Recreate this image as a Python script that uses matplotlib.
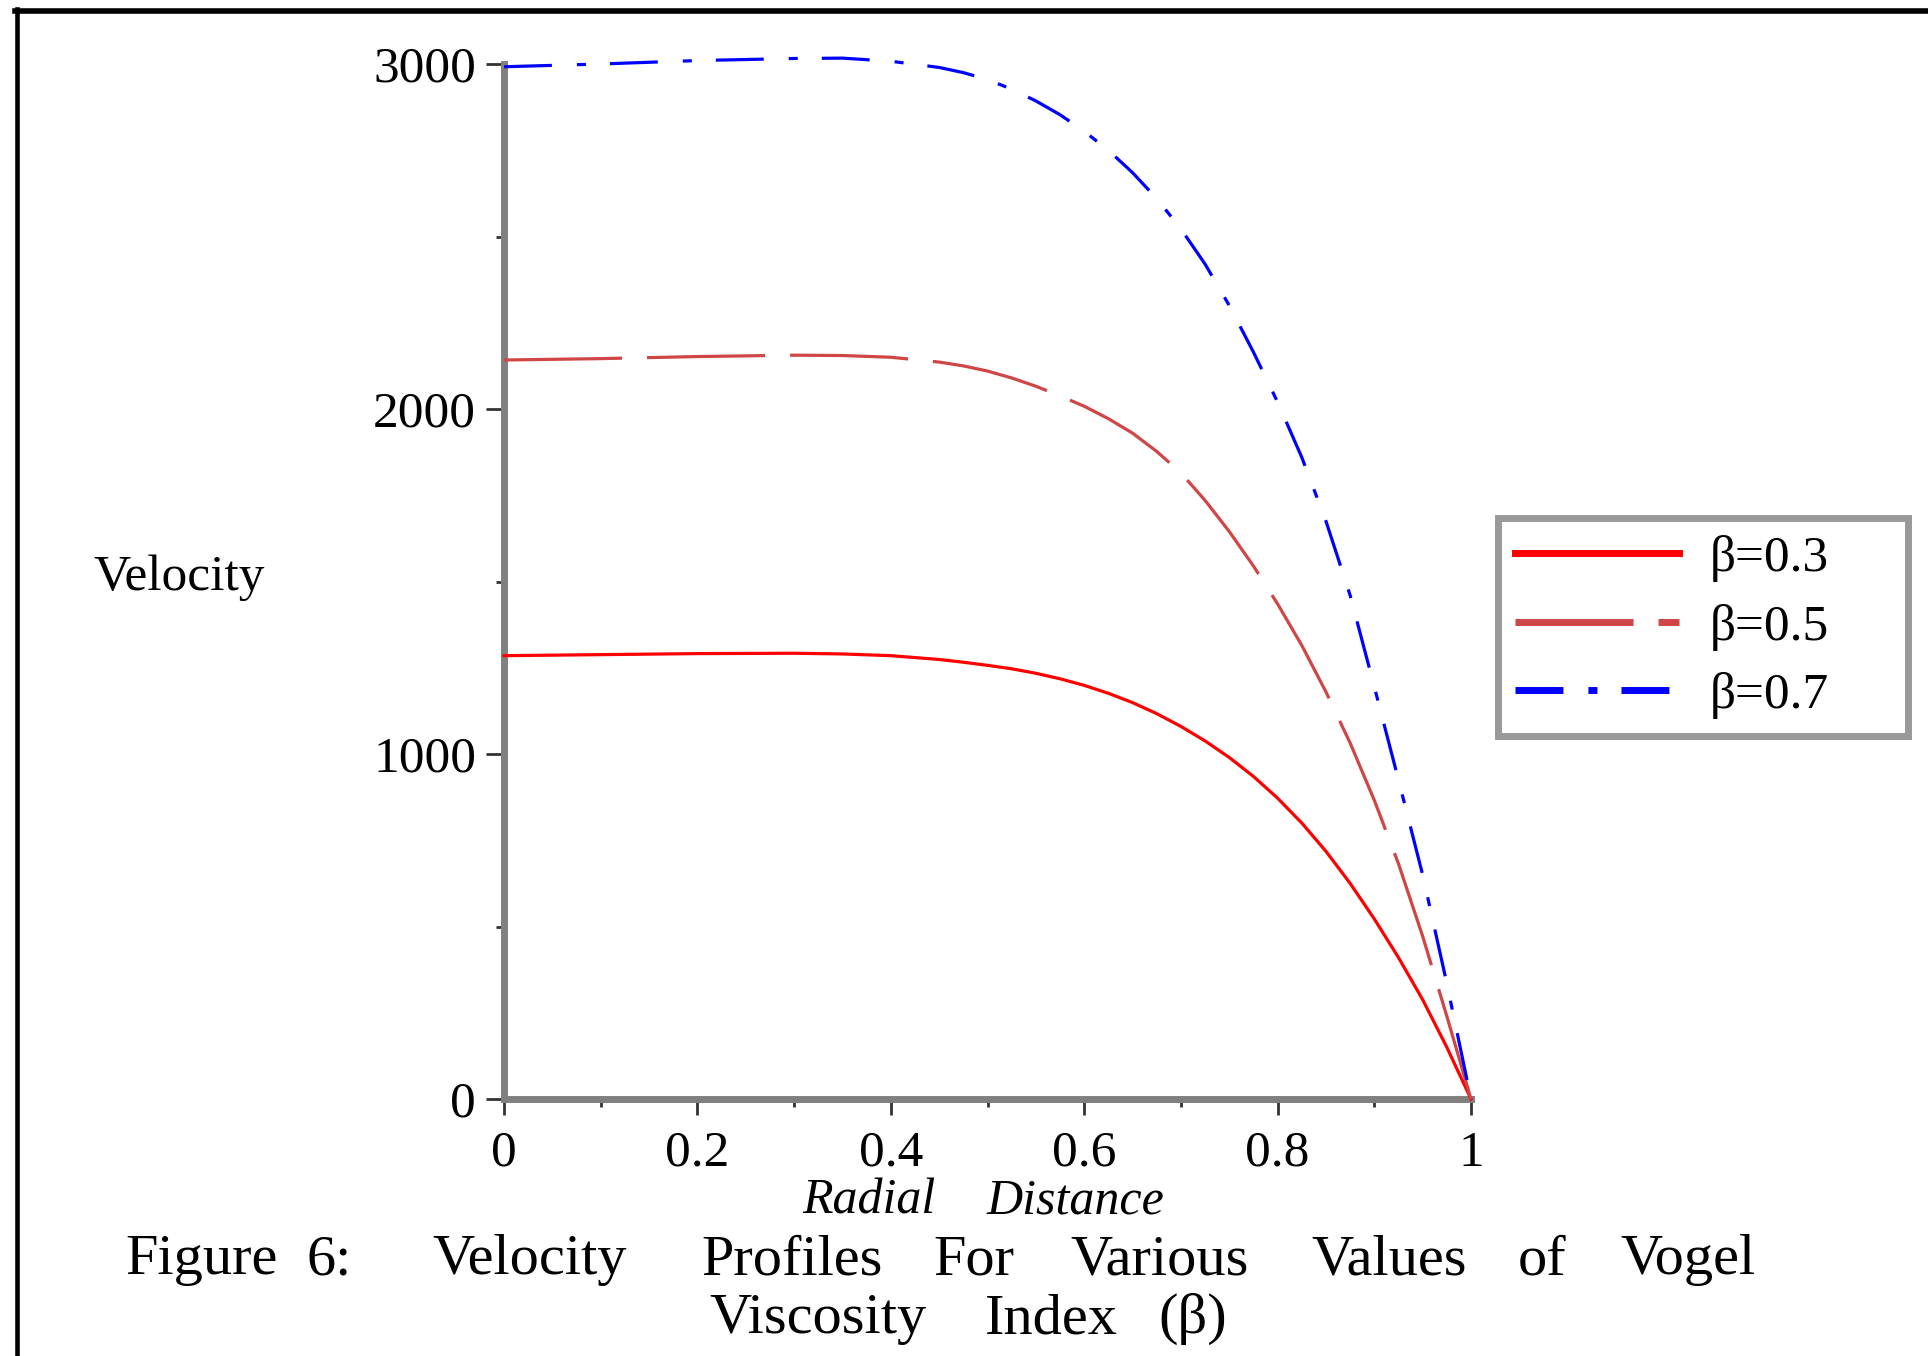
import matplotlib
matplotlib.use("Agg")
import matplotlib.pyplot as plt
from matplotlib.lines import Line2D

plt.rcParams['font.family'] = ['Liberation Serif', 'DejaVu Serif']
plt.rcParams['lines.scale_dashes'] = False

# ---------------- data ----------------
x_vals = [0.0, 0.1, 0.2, 0.3, 0.35, 0.4, 0.45, 0.475, 0.5, 0.525, 0.55, 0.575,
          0.6, 0.625, 0.65, 0.675, 0.7, 0.725, 0.75, 0.775, 0.8, 0.825, 0.85,
          0.875, 0.9, 0.925, 0.95, 0.975, 1.0]
v_beta03 = [1285, 1288, 1291, 1292, 1290, 1285, 1274, 1266, 1257, 1247, 1234, 1218,
            1199, 1176, 1149, 1117, 1080, 1038, 990, 935, 872, 800, 718,
            625, 522, 410, 288, 150, 0]
v_beta05 = [2142, 2146, 2152, 2156, 2155, 2150, 2136, 2125, 2110, 2090, 2066, 2038,
            2008, 1972, 1930, 1877, 1815, 1735, 1645, 1545, 1435, 1315, 1180,
            1032, 866, 682, 472, 240, 0]
v_beta07 = [2992, 3000, 3010, 3016, 3017, 3008, 2990, 2975, 2955, 2927, 2893, 2853,
            2805, 2750, 2685, 2610, 2522, 2420, 2300, 2165, 2020, 1860, 1675,
            1460, 1195, 925, 650, 335, 0]
series_labels = ['β=0.3', 'β=0.5', 'β=0.7']
x_ticks = [0, 0.2, 0.4, 0.6, 0.8, 1.0]
x_tick_labels = ['0', '0.2', '0.4', '0.6', '0.8', '1']
y_ticks = [0, 1000, 2000, 3000]
y_tick_labels = ['0', '1000', '2000', '3000']

# ---------------- figure ----------------
W, H = 1928, 1356
S = W / 1568.0   # reference-preview px -> full px
fig = plt.figure(figsize=(W / 100, H / 100), dpi=100)
fig.patch.set_facecolor('white')

def fx(px):
    return px / W

def fy(py):
    return 1 - py / H

ax_l, ax_r, ax_t, ax_b = 504, 1471, 64, 1099
ax = fig.add_axes([fx(ax_l), fy(ax_b), fx(ax_r - ax_l), (ax_b - ax_t) / H])
ax.set_xlim(0, 1)
ax.set_ylim(0, 3000)
ax.set_facecolor('none')

styles = [
    dict(color='#FF0000', linestyle='-'),
    dict(color='#D04545', linestyle=(0, (85, 18))),
    dict(color='#0000FF', linestyle=(0, (34.5, 18, 6.5, 17.3))),
]
for yv, st in zip([v_beta03, v_beta05, v_beta07], styles):
    ax.plot(x_vals, yv, lw=2.3, clip_on=False, zorder=3, **st)

for side in ['top', 'right']:
    ax.spines[side].set_visible(False)
for side in ['left', 'bottom']:
    ax.spines[side].set_color('#808080')
    ax.spines[side].set_linewidth(5)
    ax.spines[side].set_zorder(2)

ax.set_xticks(x_ticks)
ax.set_xticklabels(x_tick_labels)
ax.set_xticks([0.1, 0.3, 0.5, 0.7, 0.9], minor=True)
ax.set_yticks(y_ticks)
ax.set_yticklabels(y_tick_labels)
ax.set_yticks([500, 1500, 2500], minor=True)

ax.tick_params(axis='x', which='major', direction='out', length=11.5, width=2,
               color='#333333', labelsize=37, pad=11)
ax.tick_params(axis='x', which='minor', direction='out', length=6, width=2,
               color='#333333')
ax.tick_params(axis='y', which='major', direction='out', length=13, width=2,
               color='#333333', labelsize=37, pad=7)
ax.tick_params(axis='y', which='minor', direction='out', length=6, width=2,
               color='#333333')

def words(items, y_prev, size, **kw):
    for w, cx in items:
        fig.text(fx(cx * S), fy(y_prev * S), w, fontsize=size,
                 ha='center', va='center', **kw)

# axis labels
fig.text(fx(146 * S), fy(470 * S), 'Velocity', fontsize=37, ha='center', va='center')
words([('Radial', 707), ('Distance', 875)], 977, 36, style='italic')

# caption
words([('Figure', 164), ('6:', 268), ('Velocity', 431), ('Profiles', 644),
       ('For', 792), ('Various', 943), ('Values', 1130), ('of', 1254),
       ('Vogel', 1373)], 1025, 42)
words([('Viscosity', 665), ('Index', 855), ('(β)', 970)], 1073, 42)

# legend
handles = [Line2D([], [], lw=5, **st) for st in styles]
lx0, lx1, ly0 = 1498, 1908, 518
leg = ax.legend(handles, series_labels, loc='upper left', mode='expand',
                bbox_to_anchor=(fx(lx0), fy(ly0) - 0.2, fx(lx1 - lx0), 0.2),
                bbox_transform=fig.transFigure,
                borderaxespad=0, fontsize=37, frameon=True, fancybox=False,
                handlelength=3.2, handletextpad=0.6, borderpad=0.33,
                labelspacing=0.42)
leg.get_frame().set_edgecolor('#808080')
leg.get_frame().set_linewidth(5)

# outer border (top and left edges of the cropped figure frame)
fig.add_artist(Line2D([fx(15), 1], [fy(10.5), fy(10.5)], color='black', lw=4,
                      transform=fig.transFigure))
fig.add_artist(Line2D([fx(17), fx(17)], [fy(8.5), 0], color='black', lw=3.3,
                      transform=fig.transFigure))

fig.savefig('out.png', dpi=100, facecolor='white')
